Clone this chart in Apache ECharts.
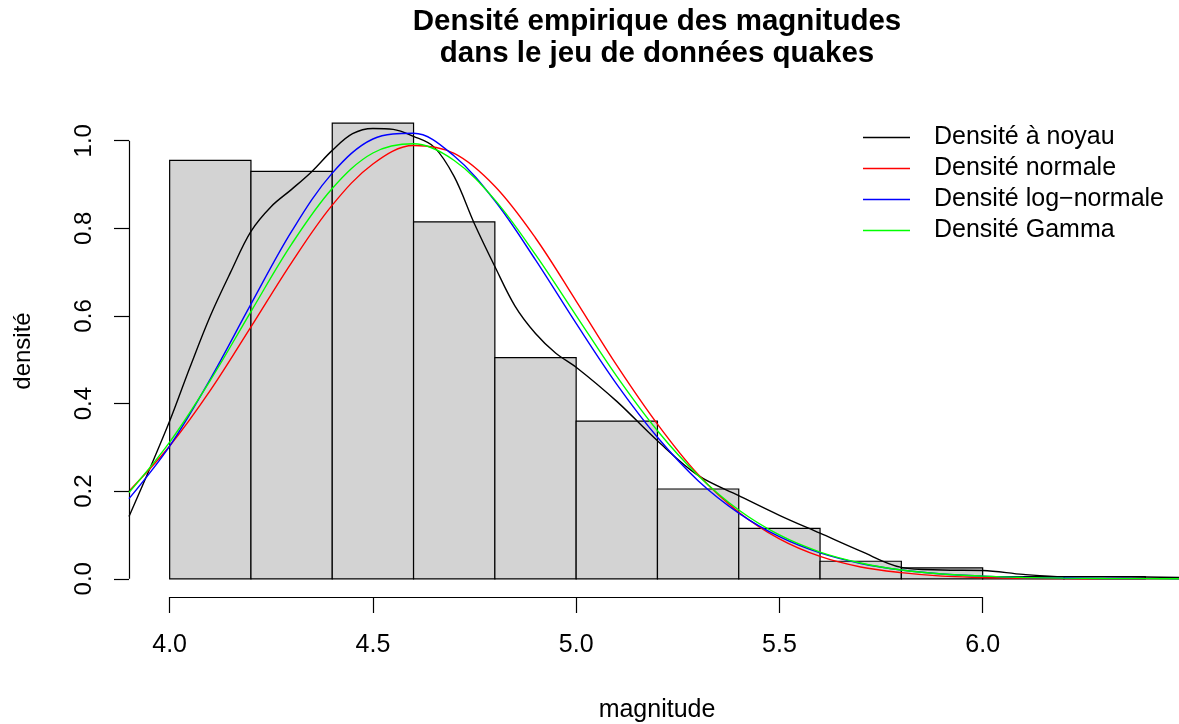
<!DOCTYPE html>
<html>
<head>
<meta charset="utf-8">
<script src="https://cdn.jsdelivr.net/npm/echarts@6/dist/echarts.min.js"></script>
<style>
  html, body { margin: 0; padding: 0; background: #fff; }
  #chart { width: 1179px; height: 724px; }
</style>
</head>
<body>
<div id="chart"></div>
<script>
// Histogram of earthquake magnitudes (density scale) with fitted densities
const breaks = [4.0, 4.2, 4.4, 4.6, 4.8, 5.0, 5.2, 5.4, 5.6, 5.8, 6.0, 6.2, 6.4];
const histDensity = [0.955, 0.93, 1.04, 0.815, 0.505, 0.36, 0.205, 0.115, 0.04, 0.025, 0.005, 0.005];

// kernel density estimate
const kernelX = [3.9, 3.95, 4.0, 4.05, 4.1, 4.15, 4.2, 4.25, 4.3, 4.35, 4.4, 4.45, 4.5, 4.55, 4.6, 4.65,
  4.7, 4.75, 4.8, 4.85, 4.9, 4.95, 5.0, 5.1, 5.2, 5.3, 5.4, 5.5, 5.6, 5.7, 5.8, 5.9, 6.0, 6.1, 6.2, 6.3, 6.4, 6.5];
const kernelY = [0.142, 0.249, 0.36, 0.483, 0.6, 0.7, 0.793, 0.85, 0.889, 0.93, 0.978, 1.016, 1.028, 1.026, 1.01, 0.986,
  0.918, 0.81, 0.713, 0.622, 0.56, 0.515, 0.483, 0.405, 0.315, 0.236, 0.19, 0.145, 0.104, 0.063, 0.026, 0.02, 0.019, 0.01, 0.005, 0.005, 0.004, 0.003];

// fitted parametric densities
const fitX = [3.9, 4.0, 4.1, 4.2, 4.3, 4.4, 4.5, 4.6, 4.7, 4.8, 4.9, 5.0, 5.1, 5.2,
  5.3, 5.4, 5.5, 5.6, 5.7, 5.8, 5.9, 6.0, 6.1, 6.2, 6.3, 6.4, 6.5];
const normalY = [0.200, 0.303, 0.430, 0.575, 0.722, 0.853, 0.947, 0.989, 0.971, 0.896, 0.778, 0.634, 0.487, 0.353,
  0.238, 0.152, 0.091, 0.051, 0.027, 0.014, 0.006, 0.003, 0.001, 0.0004, 0.0001, 0, 0];
const lognormY = [0.183, 0.303, 0.456, 0.627, 0.793, 0.926, 1.004, 1.017, 0.965, 0.863, 0.728, 0.583, 0.444, 0.323,
  0.224, 0.150, 0.096, 0.059, 0.035, 0.020, 0.011, 0.006, 0.003, 0.0017, 0.0008, 0.0004, 0.0002];
const gammaY = [0.197, 0.312, 0.453, 0.610, 0.764, 0.891, 0.972, 0.993, 0.955, 0.865, 0.740, 0.601, 0.462, 0.338,
  0.236, 0.157, 0.100, 0.061, 0.036, 0.020, 0.011, 0.006, 0.003, 0.0014, 0.0006, 0.0003, 0.0001];

const seriesNames = ['Densité à noyau', 'Densité normale', 'Densité log\u2212normale', 'Densité Gamma'];
const seriesColors = ['#000000', '#ff0000', '#0000ff', '#00ff00'];

const xTicks = [4.0, 4.5, 5.0, 5.5, 6.0];
const yTicks = [0.0, 0.2, 0.4, 0.6, 0.8, 1.0];

const titleLines = ['Densité empirique des magnitudes', 'dans le jeu de données quakes'];
const xTitle = 'magnitude';
const yTitle = 'densité';

// plotting ranges
const X_MIN = 3.9, X_MAX = 6.483;
const Y_MIN = -0.0416, Y_MAX = 1.0816;

const FONT = "'Liberation Sans', Arial, Helvetica, sans-serif";

const pairs = (xs, ys) => xs.map((x, i) => [x, ys[i]]);
const histData = histDensity.map((d, i) => [breaks[i], breaks[i + 1], d]);

const curveSeries = [pairs(kernelX, kernelY), pairs(fitX, normalY), pairs(fitX, lognormY), pairs(fitX, gammaY)]
  .map((data, i) => ({
    name: seriesNames[i],
    type: 'line',
    data: data,
    smooth: 0.35,
    symbol: 'none',
    clip: true,
    color: seriesColors[i],
    itemStyle: { color: seriesColors[i] },
    lineStyle: { color: seriesColors[i], width: 1.4 },
    z: 3 + i
  }));

const chart = echarts.init(document.getElementById('chart'), null, { renderer: 'canvas' });

chart.setOption({
  backgroundColor: '#ffffff',
  animation: false,
  grid: { left: 129, right: 0, top: 105, bottom: 127, containLabel: false },
  xAxis: {
    type: 'value', min: X_MIN, max: X_MAX,
    axisLine: { show: false, onZero: false },
    splitLine: { show: false },
    axisTick: { show: true, customValues: xTicks, length: 16, lineStyle: { color: '#000', width: 1.2 } },
    axisLabel: {
      customValues: xTicks, formatter: v => v.toFixed(1),
      margin: 36, fontSize: 25, color: '#000', fontFamily: FONT
    }
  },
  yAxis: {
    type: 'value', min: Y_MIN, max: Y_MAX,
    axisLine: { show: false, onZero: false },
    splitLine: { show: false },
    axisTick: { show: true, customValues: yTicks, length: 15, lineStyle: { color: '#000', width: 1.2 } },
    axisLabel: {
      customValues: yTicks, formatter: v => v.toFixed(1), rotate: 90,
      margin: 33, fontSize: 24, color: '#000', fontFamily: FONT
    }
  },
  legend: {
    orient: 'vertical',
    left: 863, top: 122,
    padding: 0, itemGap: 0,
    itemWidth: 47, itemHeight: 1.6,
    icon: 'rect',
    selectedMode: false,
    data: seriesNames.map((n, i) => ({ name: n, itemStyle: { color: seriesColors[i], borderWidth: 0 } })),
    textStyle: { fontSize: 25, lineHeight: 31, color: '#000', fontFamily: FONT, padding: [0, 0, 0, 19] }
  },
  graphic: [
    { type: 'text', x: 657, y: 22, style: { text: titleLines[0], align: 'center', verticalAlign: 'middle',
      font: "bold 29.5px " + FONT, fill: '#000' } },
    { type: 'text', x: 657, y: 54, style: { text: titleLines[1], align: 'center', verticalAlign: 'middle',
      font: "bold 29.5px " + FONT, fill: '#000' } },
    { type: 'text', x: 657, y: 710, style: { text: xTitle, align: 'center', verticalAlign: 'middle',
      font: "25px " + FONT, fill: '#000' } },
    { type: 'text', x: 23, y: 351, rotation: Math.PI / 2, style: { text: yTitle, align: 'center', verticalAlign: 'middle',
      font: "24px " + FONT, fill: '#000' } }
  ],
  series: [
    {
      name: 'histogramme',
      type: 'custom',
      data: histData,
      encode: { x: [0, 1], y: 2 },
      z: 2,
      renderItem: function (params, api) {
        const p0 = api.coord([api.value(0), 0]);
        const p1 = api.coord([api.value(1), api.value(2)]);
        return {
          type: 'rect',
          shape: { x: p0[0], y: p1[1], width: p1[0] - p0[0], height: p0[1] - p1[1] },
          style: { fill: '#d3d3d3', stroke: '#000', lineWidth: 1.2 }
        };
      },
      // axis lines spanning only the labelled tick range
      markLine: {
        silent: true,
        symbol: ['none', 'none'],
        label: { show: false },
        lineStyle: { color: '#000', width: 1.2, type: 'solid' },
        data: [
          [{ coord: [xTicks[0], Y_MIN] }, { coord: [xTicks[xTicks.length - 1], Y_MIN] }],
          [{ coord: [X_MIN, yTicks[0]] }, { coord: [X_MIN, yTicks[yTicks.length - 1]] }]
        ]
      }
    }
  ].concat(curveSeries)
});
</script>
</body>
</html>
